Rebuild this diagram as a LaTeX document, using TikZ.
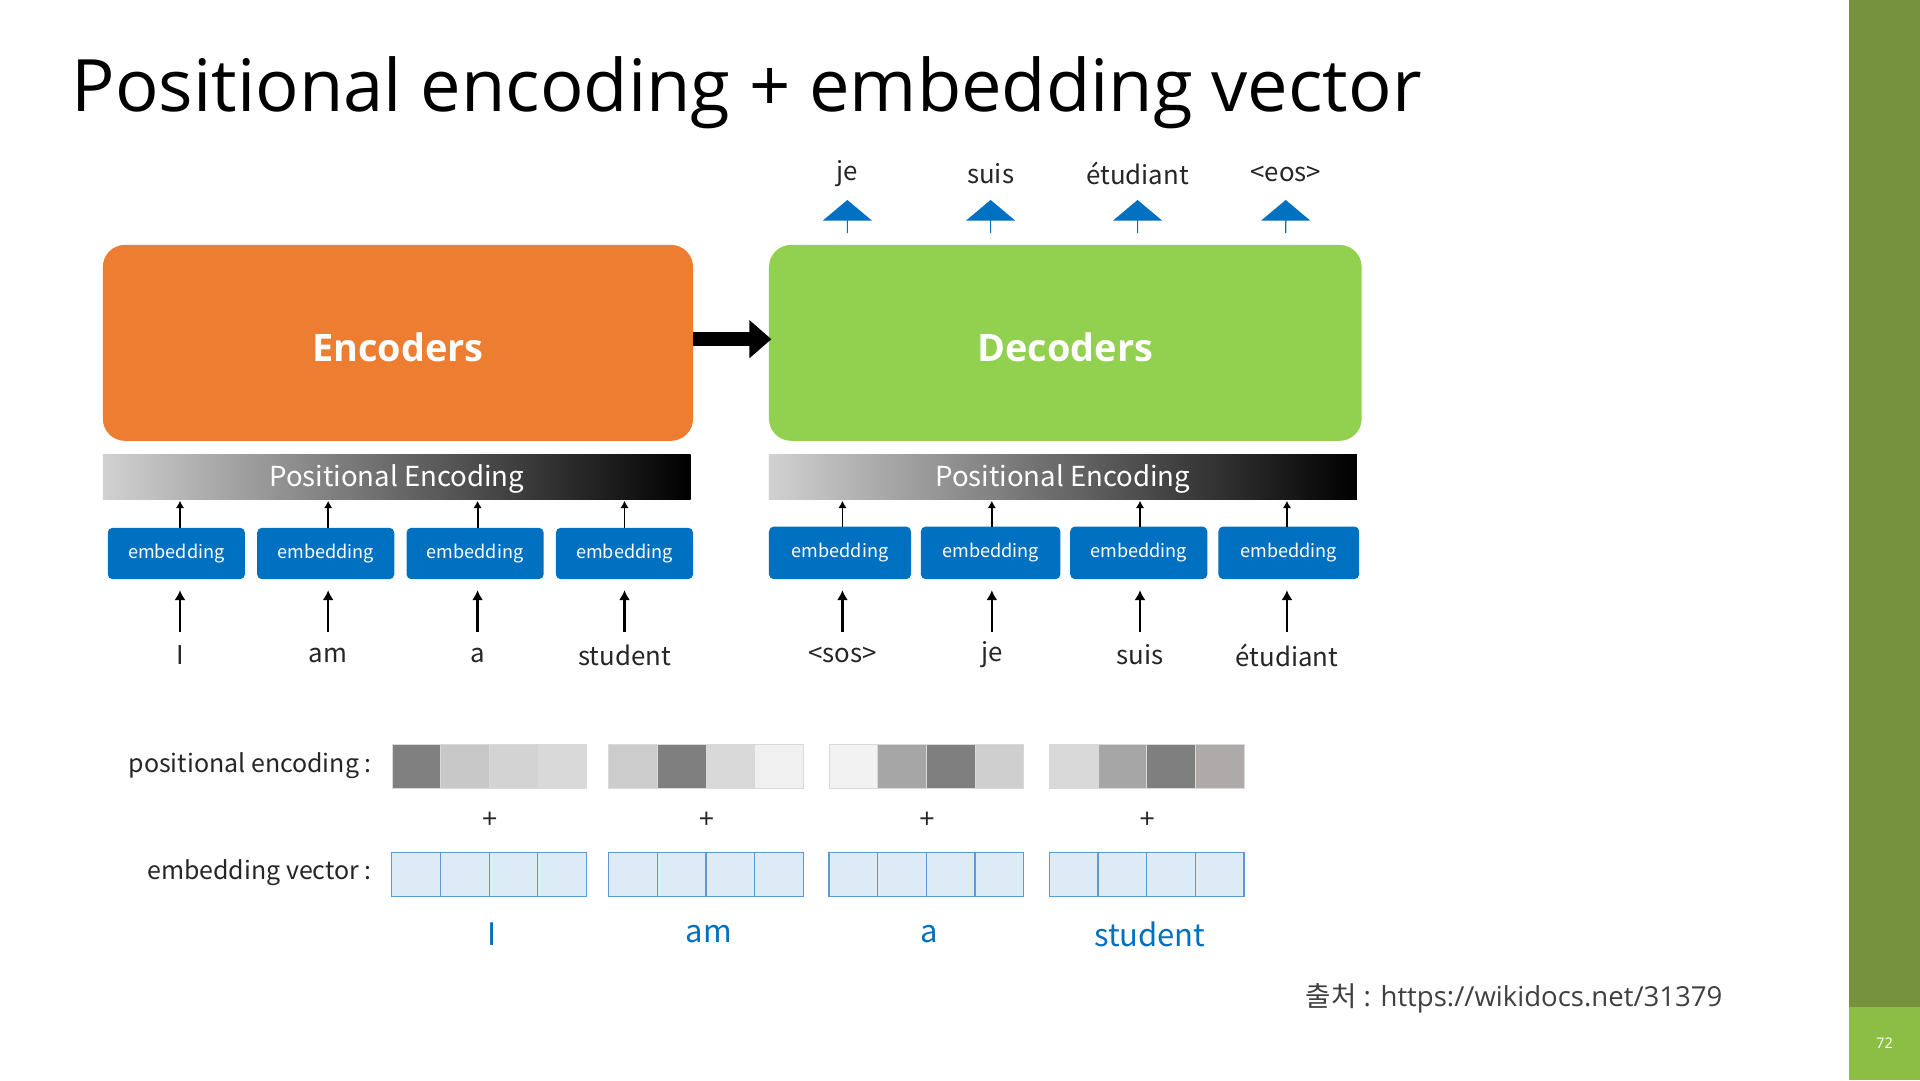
\documentclass[tikz,border=0pt]{standalone}
\usepackage{fontspec}
\setmainfont{Open Sans}
\newfontfamily\kr{Noto Sans CJK KR}
\usetikzlibrary{arrows.meta,shapes.arrows}
\definecolor{barg}{HTML}{76923C}
\definecolor{barl}{HTML}{8CBE46}
\definecolor{enc}{HTML}{ED7D31}
\definecolor{dec}{HTML}{92D050}
\definecolor{emb}{HTML}{0070C0}
\definecolor{evf}{HTML}{DDEBF7}
\definecolor{evd}{HTML}{5B9BD5}
\newcommand{\fs}[1]{\fontsize{#1}{#1}\selectfont}
\begin{document}
\begin{tikzpicture}[x=0.05cm,y=-0.05cm,
  big/.style={rounded corners=0.9cm,inner sep=0},
  pe/.style={left color=black!18,right color=black,draw=none},
  embbox/.style={fill=emb,rounded corners=0.2cm,text=white,font=\kr\fs{17}},
  word/.style={font=\kr\fs{30},text=black!85},
  sa/.style={-{Latex[length=0.3cm,width=0.35cm]},line width=2.2pt},
  la/.style={-{Latex[length=0.4cm,width=0.45cm]},line width=2.6pt},
  pcell/.style={draw=white!85!black,line width=0.6pt},
  ecell/.style={draw=evd,fill=evf,line width=1.4pt},
  outarr/.style={single arrow,shape border rotate=90,fill=emb,minimum height=1.35cm,minimum width=2cm,single arrow head extend=0.3cm,inner sep=0,single arrow tip angle=100}]
\useasboundingbox (0,0) rectangle (1568,882);
\fill[white] (0,0) rectangle (1568,882);
\fill[barg] (1510,0) rectangle (1568,882);
\fill[barl] (1510,822) rectangle (1568,882);
\node[text=white,font=\fs{17}] (pg) at (1539,852) {72};
\node[anchor=west,font=\fs{84},text=black] (title) at (56,76) {Positional encoding + embedding vector};
% main boxes
\fill[enc,big] (84,200) rectangle (566,360);
\fill[dec,big] (628,200) rectangle (1112,360);
\node[text=white,font=\bfseries\fs{44}] (encl) at (325,284) {Encoders};
\node[text=white,font=\bfseries\fs{44}] (decl) at (870,284) {Decoders};
\coordinate (ea) at (566,277); \coordinate (da) at (630,277);
\draw[-{Triangle[length=0.9cm,width=1.5cm]},line width=0.55cm] (ea) -- (da);
% PE bars
\shade[pe] (84,371) rectangle (564,408);
\shade[pe] (628,371) rectangle (1108,408);
\node[text=white,font=\kr\fs{32}] (pe1) at (324,391) {Positional Encoding};
\node[text=white,font=\kr\fs{32}] (pe2) at (868,391) {Positional Encoding};
% encoder embeddings
\foreach \a/\b/\c/\w/\n in {88/200/147/I/e1,210/322/268/am/e2,332/444/390/a/e3,454/566/510/student/e4}{
  \fill[embbox] (\a,431) rectangle (\b,473);
  \node[text=white,font=\kr\fs{21}] (\n) at ({(\a+\b)/2},452) {embedding};
  \coordinate (\n t) at (\c,431); \coordinate (\n p) at (\c,409);
  \draw[sa] (\n t) -- (\n p);
  \node[word] (\n w) at (\c,535) {\w};
  \coordinate (\n i) at (\c,516); \coordinate (\n b) at (\c,482);
  \draw[la] (\n i) -- (\n b);
}
\foreach \a/\b/\c/\w/\n in {628/744/688/{<sos>}/d1,752/866/810/je/d2,874/986/931/suis/d3,995/1110/1051/étudiant/d4}{
  \fill[embbox] (\a,430) rectangle (\b,473);
  \node[text=white,font=\kr\fs{21}] (\n) at ({(\a+\b)/2},451) {embedding};
  \coordinate (\n t) at (\c,430); \coordinate (\n p) at (\c,409);
  \draw[sa] (\n t) -- (\n p);
  \node[word] (\n w) at (\c,535) {\w};
  \coordinate (\n i) at (\c,516); \coordinate (\n b) at (\c,482);
  \draw[la] (\n i) -- (\n b);
}
% outputs
\foreach \x/\w/\n in {692/je/o1,809/suis/o2,929/étudiant/o3,1050/{<eos>}/o4}{
  \node[outarr] (\n a) at (\x,177) {};
  \node[word] (\n) at (\x,142) {\w};
}
% bottom
\node[anchor=east,font=\kr\fs{29},text=black!85] (pel) at (306,625) {positional encoding :};
\node[anchor=east,font=\kr\fs{29},text=black!85] (evl) at (306,713) {embedding vector :};
\foreach \x/\ca/\cb/\cc/\cd/\w/\n in {320/808080/C8C8C8/D3D3D3/D9D9D9/I/g1,497/CCCCCC/7F7F7F/D9D9D9/F0F0F0/am/g2,677/F2F2F2/A6A6A6/7F7F7F/CFCFCF/a/g3,857/D9D9D9/A6A6A6/7F7F7F/AEAAAA/student/g4}{
  \definecolor{c1}{HTML}{\ca}\definecolor{c2}{HTML}{\cb}\definecolor{c3}{HTML}{\cc}\definecolor{c4}{HTML}{\cd}
  \foreach \i in {1,...,4}{
    \filldraw[pcell,fill=c\i] ({\x+(\i-1)*39.75},608) rectangle ({\x+\i*39.75},644);
    \filldraw[ecell] ({\x+(\i-1)*39.75},696) rectangle ({\x+\i*39.75},732);
  }
  \node[font=\fs{32},text=black!85] (\n p) at ({\x+80},670) {+};
  \node[font=\kr\fs{36},text=emb] (\n w) at ({\x+82},763) {\w};
}
\node[anchor=west,font=\fs{32},text=black!75] (src) at (1064,815) {{\kr 출처} : https://wikidocs.net/31379};
\end{tikzpicture}
\end{document}
